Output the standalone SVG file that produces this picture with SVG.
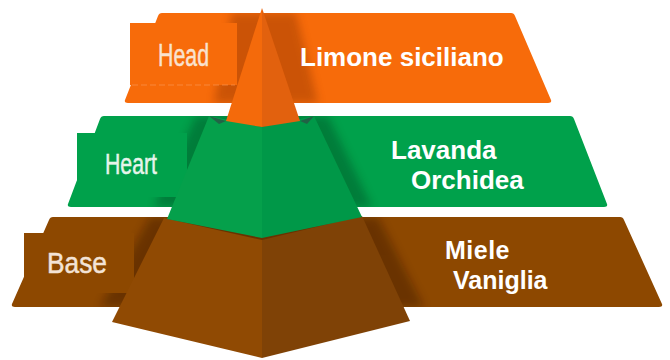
<svg xmlns="http://www.w3.org/2000/svg" width="670" height="360" viewBox="0 0 670 360">
<defs>
<style>
.lbl{font-family:"Liberation Sans",Arial,sans-serif;font-weight:normal;stroke-width:0.5;}
.txt{font-family:"Liberation Sans",Arial,sans-serif;font-weight:bold;fill:#ffffff;}
.or{fill:#F76B0A;}
.gr{fill:#00A14B;}
.br{fill:#8D4800;}
</style>
<filter id="blur" x="-20%" y="-20%" width="140%" height="140%"><feGaussianBlur stdDeviation="4"/></filter>
<clipPath id="cOr"><path d="M160,13 L513,13 L551,103 L125,103 Z"/></clipPath>
<clipPath id="cGr"><path d="M102,116 L572,116 L607,207 L68,207 Z"/></clipPath>
<clipPath id="cBr"><path d="M50,217 L623,217 L662,307 L12,307 Z"/></clipPath>
</defs>
<rect width="670" height="360" fill="#ffffff"/>

<g id="band-head">
<path class="or" d="M162,13 L511,13 Q514,13 515,16 L551,100 Q552,103 548,103 L128,103 Q124,103 125,100 L158,16 Q159,13 162,13 Z"/>
<path d="M232,13 L296,13 L318,103 L214,103 Z" fill="#7a2a00" opacity="0.35" filter="url(#blur)" clip-path="url(#cOr)"/>
<rect class="or" x="130" y="23" width="107" height="62"/>
<line x1="132" y1="85" x2="235" y2="85" stroke="#fb9a5a" stroke-width="1" stroke-dasharray="6 3" opacity="0.6"/>
<text class="lbl" x="158" y="66" font-size="31" textLength="51" lengthAdjust="spacingAndGlyphs" fill="#F9E2CF" stroke="#F9E2CF">Head</text>
<text class="txt" x="300" y="66" font-size="26">Limone siciliano</text>
</g>

<g id="band-heart">
<path class="gr" d="M104,116 L570,116 Q573,116 574,119 L607,204 Q608,207 604,207 L71,207 Q67,207 68,204 L100,119 Q101,116 104,116 Z"/>
<path d="M196,116 L328,116 L372,207 L154,207 Z" fill="#003a1a" opacity="0.35" filter="url(#blur)" clip-path="url(#cGr)"/>
<rect class="gr" x="77" y="133" width="110" height="64"/>
<text class="lbl" x="105" y="174" font-size="30" textLength="52" lengthAdjust="spacingAndGlyphs" fill="#E6F4EA" stroke="#E6F4EA">Heart</text>
<text class="txt" x="391" y="159" font-size="26">Lavanda</text>
<text class="txt" x="411" y="189" font-size="26">Orchidea</text>
</g>

<g id="band-base">
<path class="br" d="M53,217 L620,217 Q623,217 624,220 L662,304 Q663,307 659,307 L15,307 Q11,307 12,304 L49,220 Q50,217 53,217 Z"/>
<path d="M150,217 L378,217 L424,307 L100,307 Z" fill="#2a1000" opacity="0.35" filter="url(#blur)" clip-path="url(#cBr)"/>
<rect class="br" x="24" y="233" width="110" height="60"/>
<text class="lbl" x="47" y="273" font-size="29" textLength="60" lengthAdjust="spacingAndGlyphs" fill="#F3E3D6" stroke="#F3E3D6">Base</text>
<text class="txt" x="445" y="259" font-size="25" letter-spacing="0.5">Miele</text>
<text class="txt" x="453" y="289" font-size="25">Vaniglia</text>
</g>

<g id="pyramid">
<path d="M164,218 L262,240 L262,358 L112,322 Z" fill="#904A03"/>
<path d="M262,240 L362,216 L410,321 L262,358 Z" fill="#7F4206"/>
<path d="M209,116 L262,127 L262,238 L167,219 Z" fill="#05A04B"/>
<path d="M262,127 L314,116 L362,217 L262,238 Z" fill="#009848"/>
<path d="M209,116 L226,121 L219,124 Z" fill="#2f4a45" opacity="0.7"/>
<path d="M314,116 L300,121 L307,124 Z" fill="#2f4a45" opacity="0.7"/>
<path d="M262,8 L262,127 L226,121 Z" fill="#F46A0B"/>
<path d="M262,8 L300,121 L262,127 Z" fill="#E2610E"/>
</g>
</svg>
